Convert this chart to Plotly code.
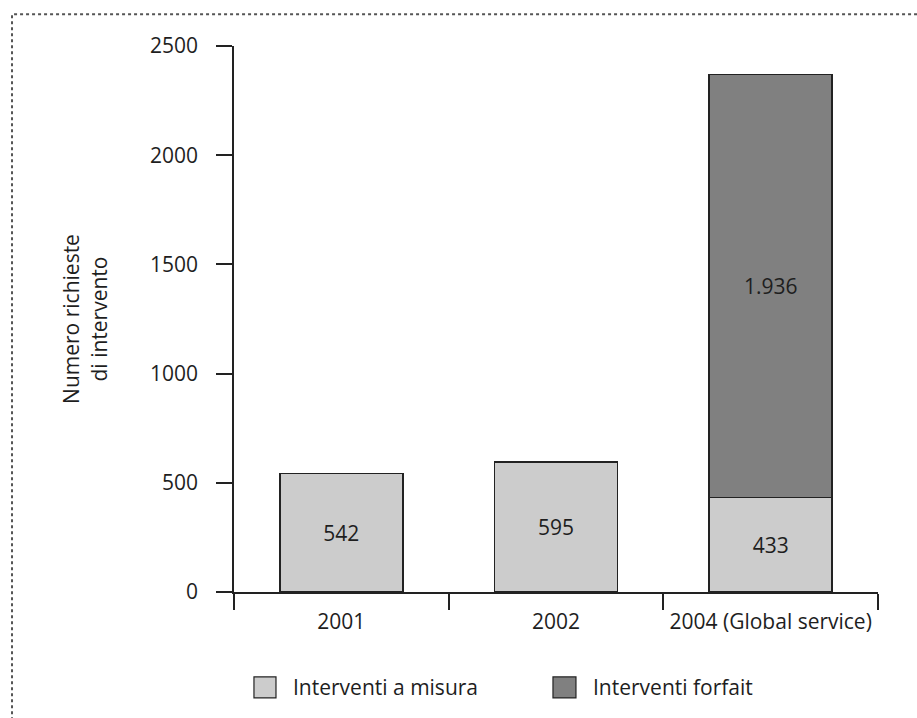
import plotly.graph_objects as go

# Richieste di intervento per anno
categorie = ["2001", "2002", "2004 (Global service)"]
a_misura = [542, 595, 433]
forfait = [0, 0, 1936]
serie_nomi = ["Interventi a misura", "Interventi forfait"]
y_ticks = [0, 500, 1000, 1500, 2000, 2500]

FONT = "Open Sans"
FS = 21
TXT = "#1e1e1e"
EDGE = "#222222"
COL_MISURA = "#cccccc"
COL_FORFAIT = "#808080"


def fmt(v):
    return f"{v:,}".replace(",", ".") if v else ""


fig = go.Figure()
fig.add_trace(go.Bar(
    x=categorie, y=a_misura, name=serie_nomi[0],
    marker=dict(color=COL_MISURA, line=dict(color=EDGE, width=1.5)),
    text=[fmt(v) for v in a_misura], textposition="inside",
    insidetextanchor="middle", textangle=0,
    textfont=dict(family=FONT, size=FS, color=TXT),
    width=0.573, showlegend=False,
))
fig.add_trace(go.Bar(
    x=categorie, y=forfait, name=serie_nomi[1],
    marker=dict(color=COL_FORFAIT, line=dict(color=EDGE, width=1.5)),
    text=[fmt(v) for v in forfait], textposition="inside",
    insidetextanchor="middle", textangle=0,
    textfont=dict(family=FONT, size=FS, color=TXT),
    width=0.573, showlegend=False,
))

shapes = [
    # cornice punteggiata
    dict(type="rect", xref="paper", yref="paper",
         x0=-0.3447, x1=1.3, y0=-0.5, y1=1.058,
         line=dict(color="#555555", width=2, dash="dot"),
         fillcolor="rgba(0,0,0,0)", layer="below"),
]
annotations = []

# legenda disegnata sotto il grafico
leg = [
    (serie_nomi[0], COL_MISURA, 0.031, 0.0652, 0.0885),
    (serie_nomi[1], COL_FORFAIT, 0.4953, 0.531, 0.5543),
]
for nome, col, x0, x1, xt in leg:
    shapes.append(dict(type="rect", xref="paper", yref="paper",
                       x0=x0, x1=x1, y0=-0.194, y1=-0.1556,
                       line=dict(color=EDGE, width=1.2), fillcolor=col))
    annotations.append(dict(xref="paper", yref="paper", x=xt, y=-0.1748,
                            text=nome, showarrow=False, xanchor="left",
                            yanchor="middle",
                            font=dict(family=FONT, size=FS, color=TXT)))

fig.update_layout(
    barmode="stack",
    width=917, height=718,
    margin=dict(l=234, r=39, t=46, b=126),
    paper_bgcolor="white", plot_bgcolor="white",
    font=dict(family=FONT, size=FS, color=TXT),
    shapes=shapes, annotations=annotations,
    xaxis=dict(
        type="category", range=[-0.5, 2.5],
        showline=True, linecolor=EDGE, linewidth=1.5,
        ticks="outside", tickson="boundaries", ticklen=16,
        tickcolor=EDGE, tickwidth=1.5,
        ticklabelstandoff=10,
        showgrid=False, zeroline=False,
        tickfont=dict(family=FONT, size=FS, color=TXT),
    ),
    yaxis=dict(
        range=[0, 2500], tickvals=y_ticks,
        showline=True, linecolor=EDGE, linewidth=1.5,
        ticks="outside", ticklen=16, tickcolor=EDGE, tickwidth=1.5,
        ticklabelstandoff=14,
        showgrid=False, zeroline=False,
        tickfont=dict(family=FONT, size=FS, color=TXT),
        title=dict(text="Numero richieste<br>di intervento",
                   font=dict(family=FONT, size=FS, color=TXT), standoff=37),
    ),
)

fig.write_html("out.html")
